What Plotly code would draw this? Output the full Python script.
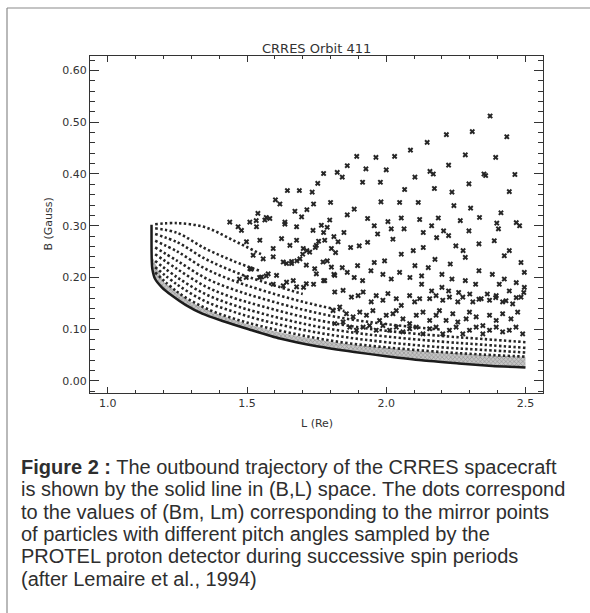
import plotly.graph_objects as go

# ---------------- data ----------------
title_text = "CRRES Orbit 411"
x_title = "L (Re)"
y_title = "B (Gauss)"
x_tickvals = [1.0, 1.5, 2.0, 2.5]
y_tickvals = [0.00, 0.10, 0.20, 0.30, 0.40, 0.50, 0.60]

# spacecraft trajectory (solid line, lower envelope)
traj_L = [1.157, 1.157, 1.158, 1.160, 1.170, 1.194, 1.230, 1.279, 1.339, 1.412,
          1.506, 1.618, 1.751, 1.885, 2.000, 2.127, 2.260, 2.381, 2.500]
traj_B = [0.302, 0.260, 0.230, 0.216, 0.197, 0.181, 0.165, 0.147, 0.130, 0.116,
          0.100, 0.082, 0.067, 0.056, 0.048, 0.040, 0.034, 0.029, 0.026]

# upper edge of the dense grey band of mirror points just above the trajectory
band_L = [1.160, 1.200, 1.300, 1.400, 1.500, 1.600, 1.700, 1.800, 1.900, 2.000,
          2.100, 2.200, 2.300, 2.400, 2.500]
band_B = [0.240, 0.192, 0.152, 0.128, 0.110, 0.096, 0.085, 0.076, 0.069, 0.064,
          0.059, 0.055, 0.052, 0.049, 0.047]

# dense rows of mirror points (constant pitch-angle families)
row_L = [1.17, 1.25, 1.35, 1.45, 1.55, 1.70, 1.85, 2.00, 2.20, 2.35, 2.50]
row1_B = [0.210, 0.172, 0.141, 0.121, 0.106, 0.088, 0.074, 0.065, 0.056, 0.051, 0.047]
row2_B = [0.220, 0.186, 0.154, 0.134, 0.118, 0.099, 0.085, 0.075, 0.065, 0.060, 0.055]
row3_B = [0.232, 0.200, 0.168, 0.147, 0.131, 0.111, 0.096, 0.086, 0.076, 0.070, 0.064]
row4_B = [0.245, 0.216, 0.183, 0.161, 0.145, 0.124, 0.108, 0.097, 0.087, 0.081, 0.075]
row5_B = [0.258, 0.232, 0.199, 0.177, 0.160, 0.138, 0.121, 0.110, 0.099]
row6_B = [0.271, 0.250, 0.217, 0.194, 0.176, 0.153, 0.135]
row7_B = [0.284, 0.268, 0.236, 0.212, 0.193, 0.168]
row8_B = [0.295, 0.286, 0.256, 0.232, 0.212]
row9_B = [0.303, 0.305, 0.297, 0.272, 0.245]

# scattered individual mirror points
dots_L = [
    1.438, 1.468, 1.480, 1.510, 1.534, 1.564, 1.582, 1.636, 1.678, 1.696, 1.737, 1.767, 1.797,
    1.498, 1.546, 1.594, 1.624, 1.654, 1.678, 1.702, 1.725, 1.749, 1.779, 1.803, 1.827,
    1.522, 1.558, 1.594, 1.630, 1.660, 1.690, 1.713, 1.743, 1.773, 1.803,
    1.510, 1.552, 1.576, 1.606, 1.642, 1.678, 1.713, 1.749, 1.779, 1.815,
    1.894, 1.963, 2.030, 2.087, 2.147, 2.216, 2.309, 2.373, 2.433, 2.393, 2.284, 2.224,
    2.157, 2.169, 2.103, 2.000, 1.927, 1.860, 1.824, 1.842, 1.775, 1.754, 1.734, 1.688,
    1.645, 1.618, 1.602, 2.351, 2.357, 2.462, 2.236, 2.297, 2.173, 2.066, 1.979, 1.915,
    1.981, 2.048, 2.115, 2.243, 2.303, 2.412, 2.335, 2.467, 2.479, 2.397, 2.266, 2.187,
    2.120, 2.054, 2.006, 1.933, 1.885, 1.860, 1.800, 1.739, 1.715, 1.672, 1.636, 1.569,
    1.533, 1.539, 2.442,
    2.403, 2.297, 2.206, 2.163, 2.133, 2.064, 2.018, 1.957, 2.024, 1.969, 1.933, 1.903,
    1.872, 1.848, 1.812, 1.788, 1.775, 1.757, 1.745, 1.715, 1.700, 1.679, 1.660, 1.642,
    1.818, 1.788, 1.842, 1.897, 1.957, 1.994, 2.054, 2.097, 2.133, 2.181, 2.224, 2.250,
    2.276, 2.333, 2.388, 2.424, 2.442, 2.484, 2.496, 2.333, 2.381, 2.424, 2.467, 2.284,
    2.230, 2.175, 2.151, 2.103, 2.127, 2.200, 2.236, 2.284, 2.321, 2.363, 2.406, 2.442,
    2.496, 2.494, 2.467, 2.430, 2.393, 2.333, 2.300, 2.260, 2.224, 2.200, 2.163, 2.127,
    2.085, 2.048, 2.018, 1.988, 1.945, 1.915, 1.885, 1.860, 1.812, 1.775, 1.739, 1.703,
    1.666, 1.630, 1.594, 1.569, 1.545, 1.515, 1.497, 1.473,
    1.815, 1.845, 1.875, 1.899, 1.917, 1.946, 1.964, 1.988, 2.006, 2.036, 2.054, 2.084,
    2.102, 2.120, 2.156, 2.179, 2.203, 2.227, 2.257, 2.275, 2.311, 2.341, 2.371, 2.395,
    2.418, 2.454, 2.484,
    1.809, 1.833, 1.857, 1.881, 1.905, 1.929, 1.952, 1.976, 2.000, 2.024, 2.036, 2.060,
    2.084, 2.108, 2.132, 2.156, 2.179, 2.191, 2.215, 2.239, 2.257, 2.287, 2.299, 2.323,
    2.347, 2.371, 2.395, 2.418, 2.448, 2.472,
    1.815, 1.845, 1.869, 1.893, 1.917, 1.940, 1.964, 1.988, 2.012, 2.036, 2.060, 2.084,
    2.108, 2.132, 2.156, 2.179, 2.203, 2.227, 2.251, 2.275, 2.299, 2.323, 2.347, 2.371,
    2.395, 2.418, 2.442, 2.466, 2.490,
]
dots_B = [
    0.307, 0.298, 0.291, 0.307, 0.298, 0.311, 0.314, 0.307, 0.298, 0.317, 0.291, 0.301, 0.311,
    0.269, 0.272, 0.256, 0.275, 0.262, 0.272, 0.256, 0.249, 0.262, 0.272, 0.256, 0.269,
    0.243, 0.236, 0.240, 0.230, 0.227, 0.236, 0.224, 0.217, 0.230, 0.220,
    0.217, 0.201, 0.207, 0.204, 0.191, 0.182, 0.188, 0.207, 0.194, 0.204,
    0.434, 0.432, 0.434, 0.446, 0.461, 0.476, 0.482, 0.512, 0.472, 0.432, 0.437, 0.417,
    0.405, 0.400, 0.394, 0.408, 0.410, 0.416, 0.403, 0.394, 0.401, 0.382, 0.365, 0.368,
    0.368, 0.342, 0.350, 0.400, 0.397, 0.399, 0.365, 0.381, 0.372, 0.370, 0.384, 0.384,
    0.346, 0.345, 0.345, 0.339, 0.334, 0.325, 0.316, 0.306, 0.300, 0.305, 0.310, 0.315,
    0.312, 0.315, 0.308, 0.314, 0.332, 0.321, 0.345, 0.342, 0.331, 0.328, 0.303, 0.316,
    0.310, 0.324, 0.366,
    0.294, 0.290, 0.290, 0.300, 0.287, 0.294, 0.294, 0.300, 0.274, 0.284, 0.268, 0.261,
    0.258, 0.287, 0.279, 0.297, 0.287, 0.270, 0.258, 0.252, 0.245, 0.232, 0.231, 0.227,
    0.248, 0.232, 0.219, 0.223, 0.229, 0.232, 0.245, 0.252, 0.258, 0.277, 0.281, 0.261,
    0.252, 0.265, 0.271, 0.242, 0.252, 0.229, 0.210, 0.213, 0.206, 0.197, 0.190, 0.239,
    0.226, 0.235, 0.219, 0.223, 0.203, 0.206, 0.197, 0.194, 0.187, 0.168, 0.187, 0.174,
    0.181, 0.171, 0.161, 0.155, 0.161, 0.158, 0.168, 0.171, 0.174, 0.181, 0.174, 0.187,
    0.200, 0.210, 0.197, 0.206, 0.213, 0.194, 0.200, 0.210, 0.206, 0.194, 0.187, 0.181,
    0.194, 0.184, 0.187, 0.203, 0.200, 0.216, 0.200, 0.197,
    0.172, 0.175, 0.162, 0.165, 0.172, 0.153, 0.165, 0.156, 0.169, 0.159, 0.146, 0.165,
    0.153, 0.159, 0.159, 0.165, 0.156, 0.162, 0.153, 0.162, 0.153, 0.159, 0.156, 0.165,
    0.153, 0.149, 0.162,
    0.136, 0.143, 0.130, 0.124, 0.133, 0.127, 0.136, 0.117, 0.127, 0.130, 0.136, 0.120,
    0.111, 0.127, 0.133, 0.117, 0.127, 0.136, 0.117, 0.130, 0.114, 0.120, 0.133, 0.124,
    0.107, 0.127, 0.117, 0.130, 0.120, 0.133,
    0.111, 0.114, 0.104, 0.098, 0.104, 0.107, 0.098, 0.107, 0.098, 0.104, 0.095, 0.101,
    0.104, 0.091, 0.101, 0.104, 0.091, 0.098, 0.104, 0.091, 0.098, 0.104, 0.091, 0.098,
    0.104, 0.095, 0.098, 0.104, 0.091,
]

caption_lines = [
    "<b>Figure 2 :</b> The outbound trajectory of the CRRES spacecraft",
    "is shown by the solid line in (B,L) space. The dots correspond",
    "to the values of (Bm, Lm) corresponding to the mirror points",
    "of particles with different pitch angles sampled by the",
    "PROTEL proton detector during successive spin periods",
    "(after Lemaire et al., 1994)",
]

# ---------------- layout helpers ----------------
W, H = 590, 613
ML, MR, MT, MB = 90, 47, 56, 220
PW, PH = W - ML - MR, H - MT - MB


def px(x):
    return (x - ML) / PW


def py(y):
    return (H - MB - y) / PH


INK = "#262626"
fig = go.Figure()

# grey band of overlapping dots
poly_L = traj_L[3:] + band_L[::-1]
poly_B = traj_B[3:] + band_B[::-1]
fig.add_trace(go.Scatter(
    x=poly_L, y=poly_B, mode="lines", fill="toself",
    line=dict(width=0, color="rgba(0,0,0,0)"),
    fillcolor="#b9b9b9",
    fillpattern=dict(shape="x", size=3, solidity=0.35, fgcolor="#555555", bgcolor="#c4c4c4"),
    hoverinfo="skip", showlegend=False,
))

# dense rows of dots
for rb in [row1_B, row2_B, row3_B, row4_B, row5_B, row6_B, row7_B, row8_B, row9_B]:
    fig.add_trace(go.Scatter(
        x=row_L[:len(rb)], y=rb, mode="lines",
        line=dict(color=INK, width=2.6, dash="2.4px,2.4px", shape="spline"),
        hoverinfo="skip", showlegend=False,
    ))

# scattered dots
fig.add_trace(go.Scatter(
    x=dots_L, y=dots_B, mode="markers",
    marker=dict(symbol="x", size=5, color=INK, line=dict(width=0)),
    showlegend=False,
))

# trajectory
fig.add_trace(go.Scatter(
    x=traj_L, y=traj_B, mode="lines",
    line=dict(color="#1c1c1c", width=2.5, shape="spline", smoothing=0.6),
    showlegend=False,
))

axis_common = dict(
    showline=True, linecolor="#333333", linewidth=1.3, mirror="ticks",
    ticks="inside", tickcolor="#333333", tickwidth=1.2,
    showgrid=False, zeroline=False,
    tickfont=dict(family="DejaVu Sans", size=11, color="#333333"),
)

fig.update_layout(
    width=W, height=H,
    margin=dict(l=ML, r=MR, t=MT, b=MB),
    paper_bgcolor="white", plot_bgcolor="white",
    xaxis=dict(range=[0.936, 2.563], tickvals=x_tickvals, ticktext=[f"{v:.1f}" for v in x_tickvals],
               ticklen=6, minor=dict(dtick=0.1, ticks="inside", ticklen=3, tickcolor="#333333", tickwidth=1),
               **axis_common),
    yaxis=dict(range=[-0.0232, 0.628], tickvals=y_tickvals, ticktext=[f"{v:.2f}" for v in y_tickvals],
               ticklen=9, minor=dict(dtick=0.02, ticks="inside", ticklen=4.5, tickcolor="#333333", tickwidth=1),
               **axis_common),
    showlegend=False,
)

annots = [
    dict(text=title_text, x=0.5, y=py(48), xref="paper", yref="paper", xanchor="center", yanchor="middle",
         showarrow=False, font=dict(family="DejaVu Sans", size=13, color="#333333")),
    dict(text=x_title, x=0.5, y=py(423.5), xref="paper", yref="paper", xanchor="center", yanchor="middle",
         showarrow=False, font=dict(family="DejaVu Sans", size=11, color="#333333")),
    dict(text=y_title, x=px(48), y=0.5, xref="paper", yref="paper", xanchor="center", yanchor="middle",
         textangle=-90, showarrow=False, font=dict(family="DejaVu Sans", size=11, color="#333333")),
]
cap_y = [466.5, 489, 511.5, 533.5, 556, 578.5]
for t, yy in zip(caption_lines, cap_y):
    annots.append(dict(text=t, x=px(19), y=py(yy), xref="paper", yref="paper", xanchor="left",
                       yanchor="middle", showarrow=False,
                       font=dict(family="Liberation Sans", size=20, color="#2e2e2e")))
fig.update_layout(annotations=annots)

# page border (top and left edges of the scanned frame)
fig.add_shape(type="line", xref="paper", yref="paper", x0=px(7), x1=px(590), y0=py(8), y1=py(8),
              line=dict(color="#8a8a8a", width=1.2))
fig.add_shape(type="line", xref="paper", yref="paper", x0=px(7), x1=px(7), y0=py(8), y1=py(613),
              line=dict(color="#8a8a8a", width=1.2))

fig.write_html("out.html")
